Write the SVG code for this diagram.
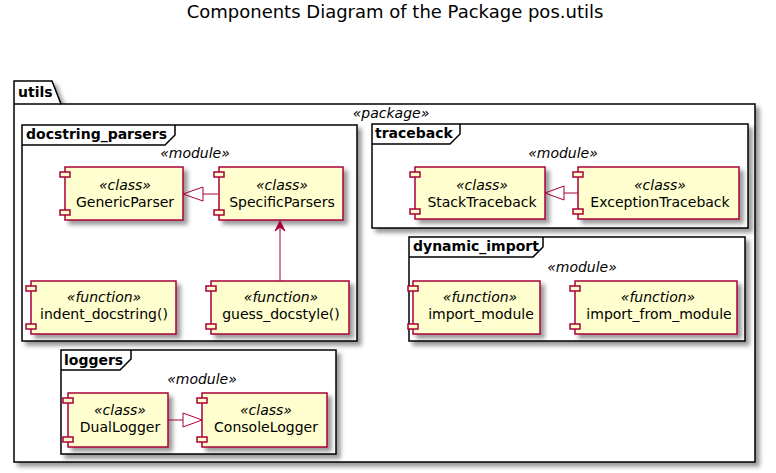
<svg xmlns="http://www.w3.org/2000/svg" width="776" height="473" viewBox="0 0 776 473">
<defs>
<filter id="sh" x="-1" y="-1" width="300%" height="300%">
<feGaussianBlur result="b" stdDeviation="2"/>
<feColorMatrix in="b" result="b2" type="matrix" values="0 0 0 0 0 0 0 0 0 0 0 0 0 0 0 0 0 0 .4 0"/>
<feOffset dx="4" dy="4" in="b2" result="b3"/>
<feBlend in="SourceGraphic" in2="b3" mode="normal"/>
</filter>
<style>
text{font-family:"DejaVu Sans","Liberation Sans",sans-serif;fill:#000}
.title{font-size:18px}
.ft{font-size:14px;font-weight:bold}
.st{font-size:14px;font-style:italic;text-anchor:middle}
.nm{font-size:14px;text-anchor:middle}
.frame{fill:#FFFFFF;stroke:#000;stroke-width:1.5}
.tab{fill:none;stroke:#000;stroke-width:1.5}
.comp{fill:#FEFECE;stroke:#A80036;stroke-width:1.5}
.port{fill:#FEFECE;stroke:#A80036;stroke-width:1.5}
.ln{fill:none;stroke:#A80036;stroke-width:1}
.tri{fill:none;stroke:#A80036;stroke-width:1}
.ah{fill:#A80036;stroke:#A80036;stroke-width:1}
</style>
</defs>
<rect width="776" height="473" fill="#FFFFFF"/>
<text class="title" x="395" y="18" text-anchor="middle">Components Diagram of the Package pos.utils</text>

<g id="utils">
<polygon class="frame" points="14,81 52,81 61,104 755,104 755,462 14,462" filter="url(#sh)"/>
<line class="tab" x1="14" y1="104" x2="61" y2="104"/>
<text class="ft" x="18" y="97">utils</text>
<text class="st" x="391" y="118">«package»</text>
</g>

<g id="docstring_parsers">
<rect class="frame" x="22" y="125" width="335" height="216" filter="url(#sh)"/>
<path class="tab" d="M22,145 L165,145 L175,135 L175,125"/>
<text class="ft" x="26" y="139">docstring_parsers</text>
<text class="st" x="195" y="158">«module»</text>
</g>

<g id="GenericParser">
<rect class="comp" x="65" y="167" width="118" height="53" filter="url(#sh)"/>
<rect class="port" x="60" y="172" width="10" height="5"/>
<rect class="port" x="60" y="210" width="10" height="5"/>
<text class="st" x="125" y="190">«class»</text>
<text class="nm" x="125" y="207">GenericParser</text>
</g>

<g id="SpecificParsers">
<rect class="comp" x="219" y="167" width="124" height="53" filter="url(#sh)"/>
<rect class="port" x="214" y="172" width="10" height="5"/>
<rect class="port" x="214" y="210" width="10" height="5"/>
<text class="st" x="282" y="190">«class»</text>
<text class="nm" x="282" y="207">SpecificParsers</text>
</g>

<g id="indent_docstring">
<rect class="comp" x="31" y="281" width="145" height="53" filter="url(#sh)"/>
<rect class="port" x="26" y="286" width="10" height="5"/>
<rect class="port" x="26" y="324" width="10" height="5"/>
<text class="st" x="104" y="302">«function»</text>
<text class="nm" x="104" y="319">indent_docstring()</text>
</g>

<g id="guess_docstyle">
<rect class="comp" x="211" y="281" width="138" height="53" filter="url(#sh)"/>
<rect class="port" x="206" y="286" width="10" height="5"/>
<rect class="port" x="206" y="324" width="10" height="5"/>
<text class="st" x="281" y="302">«function»</text>
<text class="nm" x="281" y="319">guess_docstyle()</text>
</g>

<g id="traceback">
<rect class="frame" x="372" y="124" width="376" height="104" filter="url(#sh)"/>
<path class="tab" d="M372,144 L450,144 L460,134 L460,124"/>
<text class="ft" x="375" y="138">traceback</text>
<text class="st" x="563" y="158">«module»</text>
</g>

<g id="StackTraceback">
<rect class="comp" x="415" y="167" width="130" height="52" filter="url(#sh)"/>
<rect class="port" x="410" y="172" width="10" height="5"/>
<rect class="port" x="410" y="209" width="10" height="5"/>
<text class="st" x="482" y="190">«class»</text>
<text class="nm" x="482" y="207">StackTraceback</text>
</g>

<g id="ExceptionTraceback">
<rect class="comp" x="578" y="167" width="161" height="52" filter="url(#sh)"/>
<rect class="port" x="573" y="172" width="10" height="5"/>
<rect class="port" x="573" y="209" width="10" height="5"/>
<text class="st" x="660" y="190">«class»</text>
<text class="nm" x="660" y="207">ExceptionTraceback</text>
</g>

<g id="dynamic_import">
<rect class="frame" x="409" y="237" width="336" height="104" filter="url(#sh)"/>
<path class="tab" d="M409,257 L533,257 L543,247 L543,237"/>
<text class="ft" x="413" y="251">dynamic_import</text>
<text class="st" x="582" y="272">«module»</text>
</g>

<g id="import_module">
<rect class="comp" x="413" y="281" width="127" height="53" filter="url(#sh)"/>
<rect class="port" x="408" y="286" width="10" height="5"/>
<rect class="port" x="408" y="324" width="10" height="5"/>
<text class="st" x="480" y="302">«function»</text>
<text class="nm" x="481" y="319">import_module</text>
</g>

<g id="import_from_module">
<rect class="comp" x="575" y="281" width="162" height="53" filter="url(#sh)"/>
<rect class="port" x="570" y="286" width="10" height="5"/>
<rect class="port" x="570" y="324" width="10" height="5"/>
<text class="st" x="658" y="302">«function»</text>
<text class="nm" x="659" y="319">import_from_module</text>
</g>

<g id="loggers">
<rect class="frame" x="61" y="350" width="275" height="104" filter="url(#sh)"/>
<path class="tab" d="M61,370 L120,370 L131,359 L131,350"/>
<text class="ft" x="64" y="365">loggers</text>
<text class="st" x="202" y="384">«module»</text>
</g>

<g id="DualLogger">
<rect class="comp" x="68" y="393" width="100" height="54" filter="url(#sh)"/>
<rect class="port" x="63" y="398" width="10" height="5"/>
<rect class="port" x="63" y="437" width="10" height="5"/>
<text class="st" x="120" y="415">«class»</text>
<text class="nm" x="120" y="432">DualLogger</text>
</g>

<g id="ConsoleLogger">
<rect class="comp" x="202" y="393" width="125" height="54" filter="url(#sh)"/>
<rect class="port" x="197" y="398" width="10" height="5"/>
<rect class="port" x="197" y="437" width="10" height="5"/>
<text class="st" x="266" y="415">«class»</text>
<text class="nm" x="266" y="432">ConsoleLogger</text>
</g>

<g id="connectors">
<line class="ln" x1="218" y1="194" x2="203" y2="194"/>
<polygon class="tri" points="183,194 203,187 203,201"/>
<line class="ln" x1="578" y1="193" x2="564" y2="193"/>
<polygon class="tri" points="545,193 564,186 564,200"/>
<line class="ln" x1="168" y1="420" x2="183" y2="420"/>
<polygon class="tri" points="202,420 183,413 183,427"/>
<line class="ln" x1="280" y1="281" x2="280" y2="226"/>
<polygon class="ah" points="280,221 275,231 280,227 285,231"/>
</g>
</svg>
